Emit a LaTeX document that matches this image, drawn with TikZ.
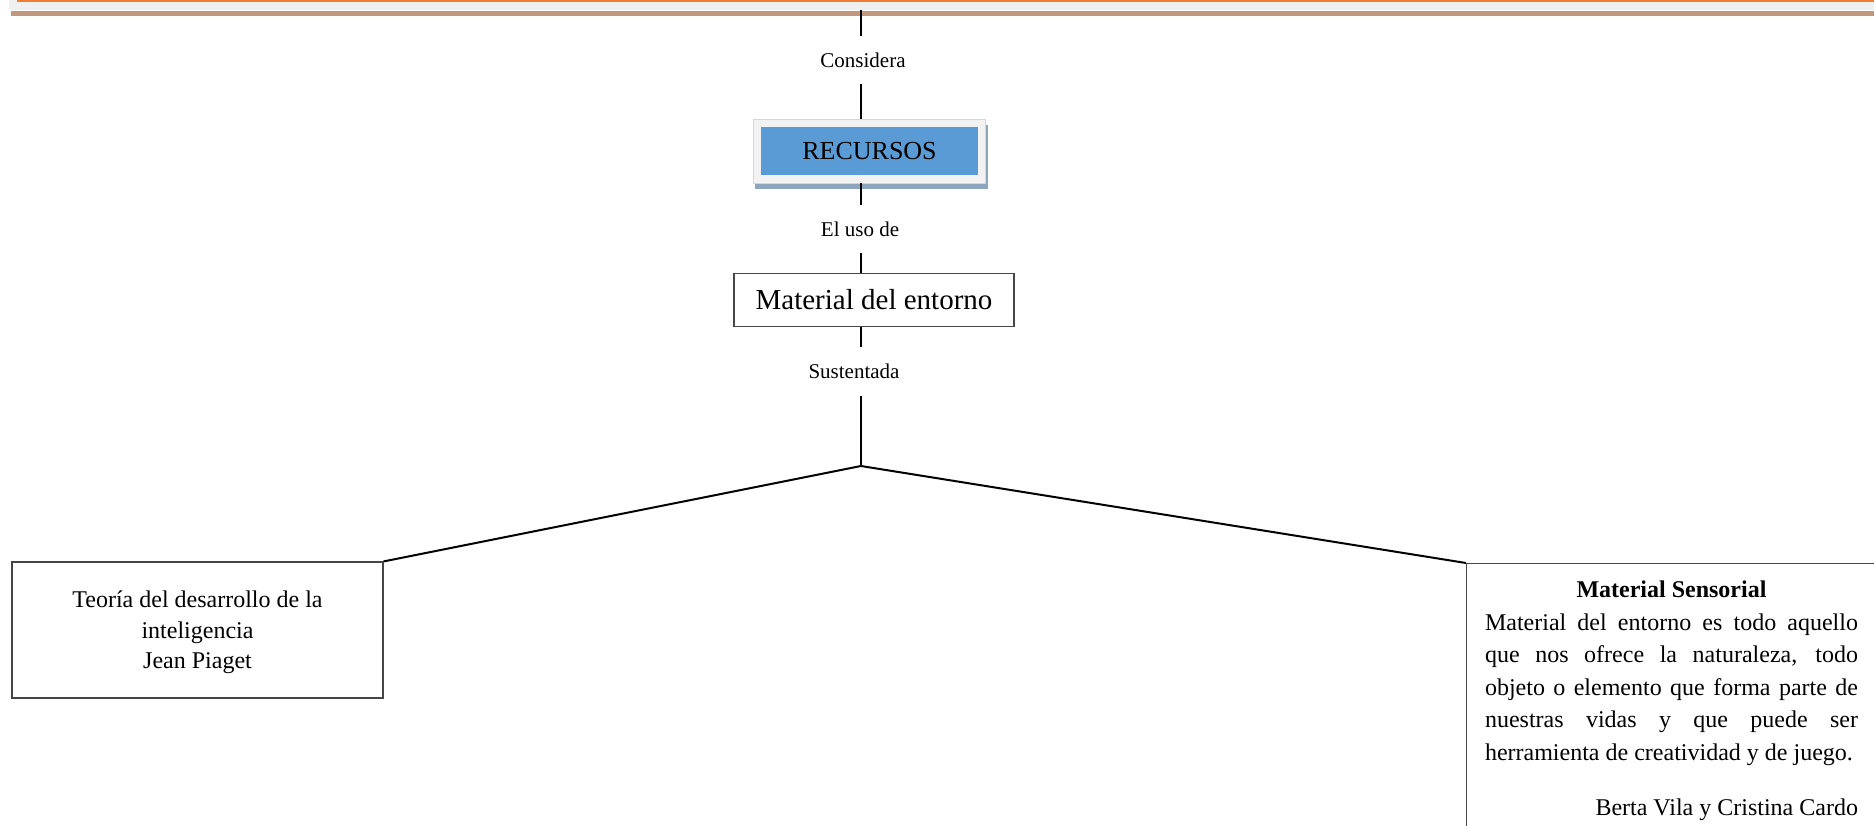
\documentclass[tikz,border=0pt]{standalone}
\usepackage{fontspec}
\setmainfont{Liberation Serif}
\definecolor{topgrey}{RGB}{240,240,240}
\definecolor{toporange}{RGB}{237,125,49}
\definecolor{topbrown}{RGB}{193,152,126}
\definecolor{recblue}{RGB}{91,155,213}
\definecolor{framefill}{RGB}{242,242,242}
\definecolor{framegrey}{RGB}{215,215,215}
\definecolor{shadowc}{RGB}{142,165,190}
\definecolor{boxgrey}{RGB}{70,70,70}
\begin{document}
\begin{tikzpicture}[x=0.5pt,y=-0.5pt,
  conn/.style={line width=1pt, draw=black},
  lbl/.style={inner sep=0pt, minimum height=24pt, font=\fontsize{10.5}{12}\selectfont},
  boxnode/.style={draw=boxgrey, line width=0.6pt, fill=white, inner sep=0pt}]
\clip (0,0) rectangle (1874,825);
\fill[white] (0,0) rectangle (1874,825);
% header bands
\fill[topgrey] (9,0) rectangle (1874,10);
\fill[toporange] (17,0) rectangle (1874,2);
\fill[topbrown] (11,11) rectangle (1874,16);
% RECURSOS with frame and shadow
\fill[shadowc] (755,125) rectangle (988,189);
\node[draw=framegrey, line width=0.4pt, fill=framefill, minimum width=116pt, minimum height=32pt, inner sep=0pt] (recframe) at (869,151) {};
\node[fill=recblue, minimum width=108.5pt, minimum height=24pt, inner sep=0pt, font=\fontsize{13}{15}\selectfont] (rec) at (869.5,151) {RECURSOS};
% labels
\node[lbl] (considera) at (863,60) {Considera};
\node[lbl] (eluso) at (860,229) {El uso de};
\node[lbl] (sust) at (854,371.5) {Sustentada};
% material del entorno
\node[boxnode, minimum width=140pt, minimum height=26.5pt, font=\fontsize{14.5}{17}\selectfont] (mat) at (874,300) {Material del entorno};
% left box
\node[boxnode, minimum width=185.5pt, minimum height=68pt, inner sep=0pt] (left) at (197.5,630) {};
\node[align=center, inner sep=0pt, font=\fontsize{12}{15.25}\selectfont] (lefttext) at (197.5,632.5) {Teoría del desarrollo de la\\inteligencia\\Jean Piaget};
% right box
\node[boxnode, anchor=north west, minimum width=215pt, minimum height=140pt] (right) at (1466,563) {};
\node[anchor=north, inner sep=0pt, text width=186.5pt, align=justify, font=\fontsize{12}{16.25}\selectfont] (rtext) at (1671.5,580.5) {\setlength{\parindent}{0pt}{\centering\textbf{Material Sensorial}\par}
Material del entorno es todo aquello\linebreak que nos ofrece la naturaleza, todo\linebreak objeto o elemento que forma parte de\linebreak nuestras vidas y que puede ser\linebreak herramienta de creatividad y de juego.\par
\vspace{11.25pt}{\raggedleft Berta Vila y Cristina Cardo\par}};
% connectors
\coordinate (top) at (861,10);
\coordinate (junc) at (861,466);
\draw[conn] (top) -- (top |- considera.north);
\draw[conn] (top |- considera.south) -- (top |- recframe.north);
\draw[conn] (top |- recframe.south) -- (top |- eluso.north);
\draw[conn] (top |- eluso.south) -- (top |- mat.north);
\draw[conn] (top |- mat.south) -- (top |- sust.north);
\draw[conn] (top |- sust.south) -- (junc);
\draw[conn] (junc) -- (left.north east);
\draw[conn] (junc) -- (right.north west);
\end{tikzpicture}
\end{document}
